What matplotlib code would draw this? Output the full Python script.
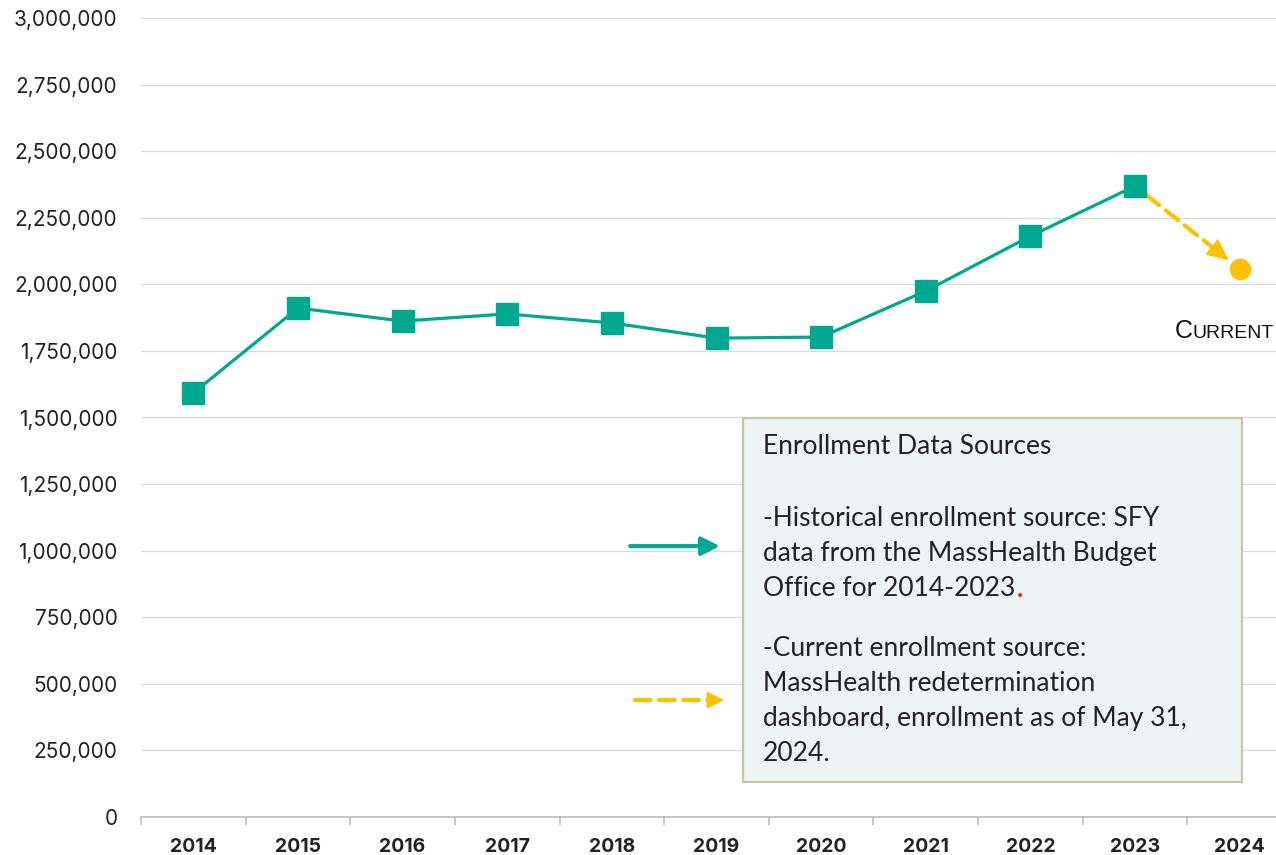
import numpy as np
import matplotlib
matplotlib.use('Agg')
import matplotlib.pyplot as plt
from matplotlib.patches import Rectangle
from matplotlib.ticker import FuncFormatter, FixedLocator

years = ['2014', '2015', '2016', '2017', '2018', '2019', '2020', '2021', '2022', '2023', '2024']
historical = [1592000, 1911000, 1862000, 1889000, 1855000, 1798000, 1802000, 1975000, 2181000, 2369000]
current = 2058000
yticks = [0, 250000, 500000, 750000, 1000000, 1250000, 1500000, 1750000,
          2000000, 2250000, 2500000, 2750000, 3000000]

box_title = 'Enrollment Data Sources'
para1 = ['-Historical enrollment source: SFY', 'data from the MassHealth Budget',
         'Office for 2014-2023']
para2 = ['-Current enrollment source:', 'MassHealth redetermination',
         'dashboard, enrollment as of May 31,', '2024.']

teal = '#00A890'
gold = '#FFC000'

fig = plt.figure(figsize=(12.76, 8.55), dpi=100)
ax = fig.add_axes([141 / 1276, 38 / 855, 1151 / 1276, 799 / 855])

x = np.arange(len(years))
ax.plot(x[:-1], historical, color=teal, lw=2.3, marker='s', markersize=16.5,
        zorder=4, clip_on=False)
ax.plot(x[-1], current, marker='o', color=gold, markersize=14.5, zorder=4,
        clip_on=False)

ax.set_xlim(-0.5, len(years) - 0.5)
ax.set_ylim(0, 3000000)


def dashed_arrow(p0, p1, coords, color, shrink0=0, shrink1=0, head=(1.4, 0.65)):
    # dashed shaft + solid head, both in the given coordinate system
    tr = ax.transData if coords == 'data' else ax.transAxes
    a = tr.transform(p0)
    b = tr.transform(p1)
    d = (b - a) / np.hypot(*(b - a))
    a = a + d * shrink0
    b = b - d * shrink1
    inv = tr.inverted()
    hl = head[0] * 10 * 100 / 72
    ax.annotate('', xy=inv.transform(b - d * hl * 0.8), xytext=inv.transform(a),
                xycoords=coords, textcoords=coords,
                arrowprops=dict(arrowstyle='-', color=color, lw=3,
                                linestyle=(0, (3.8, 2)), shrinkA=0, shrinkB=0),
                zorder=3)
    ax.annotate('', xy=inv.transform(b), xytext=inv.transform(b - d * hl * 1.05),
                xycoords=coords, textcoords=coords,
                arrowprops=dict(arrowstyle=f'-|>,head_length={head[0]},head_width={head[1]}',
                                color=color, lw=1, shrinkA=0, shrinkB=0),
                zorder=3)


dashed_arrow((x[-2], historical[-1]), (x[-1], current), 'data', gold,
             shrink0=15, shrink1=14)

ax.set_xticks(x)
ax.set_xticklabels(years, fontfamily='Inter', fontweight='bold', fontsize=14,
                   color='#222222')
ax.xaxis.set_minor_locator(FixedLocator(np.arange(-0.5, len(years), 1)))
ax.tick_params(axis='x', which='major', length=0, pad=15)
ax.tick_params(axis='x', which='minor', length=6, width=1.2, color='#BFBFBF')
ax.set_yticks(yticks)
ax.yaxis.set_major_formatter(FuncFormatter(lambda v, p: f'{int(v):,}'))
ax.tick_params(axis='y', length=0, pad=17, labelsize=15, labelcolor='#222222')
for lab in ax.get_yticklabels():
    lab.set_fontfamily('Inter')
ax.grid(axis='y', color='#D9D9D9', lw=0.9)
ax.set_axisbelow(True)
for s in ['top', 'right', 'left']:
    ax.spines[s].set_visible(False)
ax.spines['bottom'].set_color('#BFBFBF')
ax.spines['bottom'].set_linewidth(1.3)

# legend arrows
ax.annotate('', xy=(0.503, 0.339), xytext=(0.425, 0.339), xycoords='axes fraction',
            arrowprops=dict(arrowstyle='-|>,head_length=1.1,head_width=0.55',
                            color=teal, lw=3, shrinkA=0, shrinkB=0))
dashed_arrow((0.429, 0.1464), (0.5065, 0.1464), 'axes fraction', gold,
             head=(1.1, 0.55))

# sources box
ax.add_patch(Rectangle((0.523, 0.0438), 0.4336, 0.4556, transform=ax.transAxes,
                       facecolor='#EEF3F3', edgecolor='#C3C8A2', lw=1.5, zorder=5))
bx = (763 - 141) / 1151
tf = dict(transform=ax.transAxes, fontfamily='Lato', fontsize=19, color='#222222',
          va='center', ha='left', zorder=6)


def ypos(py):
    return (817 - py) / 799


ax.text(bx, ypos(446), box_title, **tf)
last = None
for i, line in enumerate(para1):
    last = ax.text(bx, ypos(518 + 35.3 * i), line, **tf)
for i, line in enumerate(para2):
    ax.text(bx, ypos(648 + 35.3 * i), line, **tf)

# CURRENT label in small caps
t2 = fig.text(1274 / 1276, 1 - 338 / 855, 'URRENT', fontfamily='Liberation Sans',
              fontsize=14, ha='right', va='baseline', color='#111111')
fig.canvas.draw()
r = fig.canvas.get_renderer()
bb = t2.get_window_extent(r)
fig.text(bb.x0 / 1276, 1 - 338 / 855, 'C', fontfamily='Liberation Sans',
         fontsize=18, ha='right', va='baseline', color='#111111')

# red period after 2014-2023
bb2 = last.get_window_extent(r)
ax.text((bb2.x1 - ax.bbox.x0 + 1) / ax.bbox.width, ypos(518 + 35.3 * 2), '.',
        transform=ax.transAxes, fontfamily='Lato', fontsize=19, color='#E8201A',
        fontweight='bold', va='center', ha='left', zorder=6)

fig.savefig('out.png', dpi=100)
